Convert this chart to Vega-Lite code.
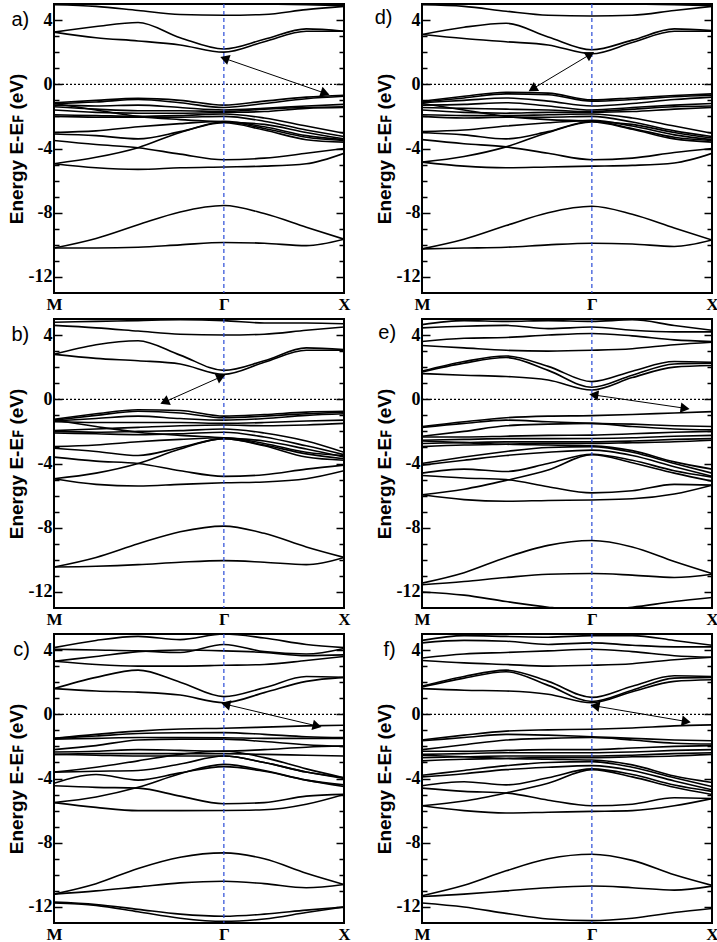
{
"$schema": "https://vega.github.io/schema/vega-lite/v6.json",
"background": "white",
"padding": {"left": 6, "top": 2, "right": 2, "bottom": 4},
"bounds": "flush",
"columns": 2,
"spacing": {"row": 26, "column": 78},
"config": {"view": {"stroke": "black", "strokeWidth": 2}},
"datasets": {
"a": [
{"b":1,"x":0,"y":4.95},{"b":1,"x":0.35,"y":4.85},{"b":1,"x":0.7,"y":4.6},{"b":1,"x":1.05,"y":4.35},{"b":1,"x":1.414,"y":4.3},{"b":1,"x":1.75,"y":4.35},{"b":1,"x":2.1,"y":4.65},{"b":1,"x":2.414,"y":4.85},
{"b":2,"x":0,"y":5.1},{"b":2,"x":0.35,"y":5.1},{"b":2,"x":0.7,"y":5.1},{"b":2,"x":1.05,"y":5.1},{"b":2,"x":1.414,"y":5.05},{"b":2,"x":1.75,"y":5.0},{"b":2,"x":2.1,"y":4.95},{"b":2,"x":2.414,"y":4.9},
{"b":3,"x":0,"y":3.25},{"b":3,"x":0.35,"y":3.6},{"b":3,"x":0.7,"y":3.85},{"b":3,"x":1.05,"y":2.9},{"b":3,"x":1.414,"y":2.2},{"b":3,"x":1.75,"y":2.8},{"b":3,"x":2.1,"y":3.45},{"b":3,"x":2.414,"y":3.3},
{"b":4,"x":0,"y":3.25},{"b":4,"x":0.35,"y":2.9},{"b":4,"x":0.7,"y":2.7},{"b":4,"x":1.05,"y":2.45},{"b":4,"x":1.414,"y":2.0},{"b":4,"x":1.75,"y":2.65},{"b":4,"x":2.1,"y":3.3},{"b":4,"x":2.414,"y":3.3},
{"b":5,"x":0,"y":-1.15},{"b":5,"x":0.35,"y":-1.0},{"b":5,"x":0.7,"y":-0.88},{"b":5,"x":1.05,"y":-1.0},{"b":5,"x":1.414,"y":-1.3},{"b":5,"x":1.75,"y":-1.05},{"b":5,"x":2.1,"y":-0.8},{"b":5,"x":2.414,"y":-0.68},
{"b":6,"x":0,"y":-1.2},{"b":6,"x":0.35,"y":-1.1},{"b":6,"x":0.7,"y":-0.95},{"b":6,"x":1.05,"y":-1.15},{"b":6,"x":1.414,"y":-1.45},{"b":6,"x":1.75,"y":-1.2},{"b":6,"x":2.1,"y":-0.9},{"b":6,"x":2.414,"y":-0.75},
{"b":7,"x":0,"y":-1.3},{"b":7,"x":0.35,"y":-1.35},{"b":7,"x":0.7,"y":-1.3},{"b":7,"x":1.05,"y":-1.45},{"b":7,"x":1.414,"y":-1.6},{"b":7,"x":1.75,"y":-1.5},{"b":7,"x":2.1,"y":-1.35},{"b":7,"x":2.414,"y":-1.25},
{"b":8,"x":0,"y":-1.4},{"b":8,"x":0.35,"y":-1.55},{"b":8,"x":0.7,"y":-1.65},{"b":8,"x":1.05,"y":-1.65},{"b":8,"x":1.414,"y":-1.7},{"b":8,"x":1.75,"y":-1.55},{"b":8,"x":2.1,"y":-1.45},{"b":8,"x":2.414,"y":-1.4},
{"b":9,"x":0,"y":-1.6},{"b":9,"x":0.35,"y":-1.75},{"b":9,"x":0.7,"y":-1.8},{"b":9,"x":1.05,"y":-1.8},{"b":9,"x":1.414,"y":-1.75},{"b":9,"x":1.75,"y":-1.7},{"b":9,"x":2.1,"y":-1.5},{"b":9,"x":2.414,"y":-1.45},
{"b":10,"x":0,"y":-1.9},{"b":10,"x":0.35,"y":-1.95},{"b":10,"x":0.7,"y":-2.0},{"b":10,"x":1.05,"y":-1.95},{"b":10,"x":1.414,"y":-1.85},{"b":10,"x":1.75,"y":-2.1},{"b":10,"x":2.1,"y":-2.6},{"b":10,"x":2.414,"y":-3.05},
{"b":11,"x":0,"y":-2.0},{"b":11,"x":0.35,"y":-2.05},{"b":11,"x":0.7,"y":-2.05},{"b":11,"x":1.05,"y":-2.05},{"b":11,"x":1.414,"y":-2.0},{"b":11,"x":1.75,"y":-2.3},{"b":11,"x":2.1,"y":-2.85},{"b":11,"x":2.414,"y":-3.25},
{"b":12,"x":0,"y":-1.2},{"b":12,"x":0.35,"y":-1.6},{"b":12,"x":0.7,"y":-2.0},{"b":12,"x":1.05,"y":-2.2},{"b":12,"x":1.414,"y":-2.35},{"b":12,"x":1.75,"y":-2.5},{"b":12,"x":2.1,"y":-3.0},{"b":12,"x":2.414,"y":-3.4},
{"b":13,"x":0,"y":-3.0},{"b":13,"x":0.35,"y":-2.9},{"b":13,"x":0.7,"y":-2.65},{"b":13,"x":1.05,"y":-2.45},{"b":13,"x":1.414,"y":-2.3},{"b":13,"x":1.75,"y":-2.65},{"b":13,"x":2.1,"y":-3.2},{"b":13,"x":2.414,"y":-3.45},
{"b":14,"x":0,"y":-3.1},{"b":14,"x":0.35,"y":-3.2},{"b":14,"x":0.7,"y":-3.4},{"b":14,"x":1.05,"y":-2.95},{"b":14,"x":1.414,"y":-2.35},{"b":14,"x":1.75,"y":-2.75},{"b":14,"x":2.1,"y":-3.3},{"b":14,"x":2.414,"y":-3.5},
{"b":15,"x":0,"y":-3.5},{"b":15,"x":0.35,"y":-3.75},{"b":15,"x":0.7,"y":-3.95},{"b":15,"x":1.05,"y":-4.35},{"b":15,"x":1.414,"y":-4.7},{"b":15,"x":1.75,"y":-4.6},{"b":15,"x":2.1,"y":-4.3},{"b":15,"x":2.414,"y":-4.0},
{"b":16,"x":0,"y":-4.95},{"b":16,"x":0.35,"y":-4.55},{"b":16,"x":0.7,"y":-3.95},{"b":16,"x":1.05,"y":-3.0},{"b":16,"x":1.414,"y":-2.4},{"b":16,"x":1.75,"y":-2.85},{"b":16,"x":2.1,"y":-3.45},{"b":16,"x":2.414,"y":-3.6},
{"b":17,"x":0,"y":-4.95},{"b":17,"x":0.35,"y":-5.2},{"b":17,"x":0.7,"y":-5.3},{"b":17,"x":1.05,"y":-5.2},{"b":17,"x":1.414,"y":-5.15},{"b":17,"x":1.75,"y":-5.1},{"b":17,"x":2.1,"y":-4.95},{"b":17,"x":2.414,"y":-4.3},
{"b":18,"x":0,"y":-10.2},{"b":18,"x":0.35,"y":-9.6},{"b":18,"x":0.7,"y":-8.75},{"b":18,"x":1.05,"y":-7.95},{"b":18,"x":1.414,"y":-7.55},{"b":18,"x":1.75,"y":-8.05},{"b":18,"x":2.1,"y":-8.9},{"b":18,"x":2.414,"y":-9.65},
{"b":19,"x":0,"y":-10.2},{"b":19,"x":0.35,"y":-10.2},{"b":19,"x":0.7,"y":-10.15},{"b":19,"x":1.05,"y":-10.0},{"b":19,"x":1.414,"y":-9.85},{"b":19,"x":1.75,"y":-9.9},{"b":19,"x":2.1,"y":-10.05},{"b":19,"x":2.414,"y":-9.65}
],
"d": [
{"b":1,"x":0,"y":4.95},{"b":1,"x":0.35,"y":4.85},{"b":1,"x":0.7,"y":4.55},{"b":1,"x":1.05,"y":4.3},{"b":1,"x":1.414,"y":4.25},{"b":1,"x":1.75,"y":4.3},{"b":1,"x":2.1,"y":4.6},{"b":1,"x":2.414,"y":4.85},
{"b":2,"x":0,"y":5.1},{"b":2,"x":0.35,"y":5.1},{"b":2,"x":0.7,"y":5.1},{"b":2,"x":1.05,"y":5.05},{"b":2,"x":1.414,"y":5.05},{"b":2,"x":1.75,"y":5.0},{"b":2,"x":2.1,"y":4.95},{"b":2,"x":2.414,"y":4.9},
{"b":3,"x":0,"y":3.1},{"b":3,"x":0.35,"y":3.55},{"b":3,"x":0.7,"y":3.8},{"b":3,"x":1.05,"y":2.95},{"b":3,"x":1.414,"y":2.15},{"b":3,"x":1.75,"y":2.75},{"b":3,"x":2.1,"y":3.45},{"b":3,"x":2.414,"y":3.35},
{"b":4,"x":0,"y":3.1},{"b":4,"x":0.35,"y":2.85},{"b":4,"x":0.7,"y":2.65},{"b":4,"x":1.05,"y":2.45},{"b":4,"x":1.414,"y":1.9},{"b":4,"x":1.75,"y":2.6},{"b":4,"x":2.1,"y":3.3},{"b":4,"x":2.414,"y":3.3},
{"b":5,"x":0,"y":-1.05},{"b":5,"x":0.35,"y":-0.75},{"b":5,"x":0.7,"y":-0.5},{"b":5,"x":1.05,"y":-0.55},{"b":5,"x":1.414,"y":-0.97},{"b":5,"x":1.75,"y":-0.85},{"b":5,"x":2.1,"y":-0.7},{"b":5,"x":2.414,"y":-0.6},
{"b":6,"x":0,"y":-1.1},{"b":6,"x":0.35,"y":-0.85},{"b":6,"x":0.7,"y":-0.6},{"b":6,"x":1.05,"y":-0.65},{"b":6,"x":1.414,"y":-1.05},{"b":6,"x":1.75,"y":-0.95},{"b":6,"x":2.1,"y":-0.78},{"b":6,"x":2.414,"y":-0.68},
{"b":7,"x":0,"y":-1.15},{"b":7,"x":0.35,"y":-1.0},{"b":7,"x":0.7,"y":-0.85},{"b":7,"x":1.05,"y":-1.05},{"b":7,"x":1.414,"y":-1.35},{"b":7,"x":1.75,"y":-1.2},{"b":7,"x":2.1,"y":-0.95},{"b":7,"x":2.414,"y":-0.8},
{"b":8,"x":0,"y":-1.3},{"b":8,"x":0.35,"y":-1.25},{"b":8,"x":0.7,"y":-1.15},{"b":8,"x":1.05,"y":-1.35},{"b":8,"x":1.414,"y":-1.6},{"b":8,"x":1.75,"y":-1.45},{"b":8,"x":2.1,"y":-1.3},{"b":8,"x":2.414,"y":-1.2},
{"b":9,"x":0,"y":-1.45},{"b":9,"x":0.35,"y":-1.5},{"b":9,"x":0.7,"y":-1.55},{"b":9,"x":1.05,"y":-1.6},{"b":9,"x":1.414,"y":-1.7},{"b":9,"x":1.75,"y":-1.55},{"b":9,"x":2.1,"y":-1.4},{"b":9,"x":2.414,"y":-1.35},
{"b":10,"x":0,"y":-1.6},{"b":10,"x":0.35,"y":-1.75},{"b":10,"x":0.7,"y":-1.8},{"b":10,"x":1.05,"y":-1.75},{"b":10,"x":1.414,"y":-1.75},{"b":10,"x":1.75,"y":-1.7},{"b":10,"x":2.1,"y":-1.55},{"b":10,"x":2.414,"y":-1.45},
{"b":11,"x":0,"y":-1.9},{"b":11,"x":0.35,"y":-1.95},{"b":11,"x":0.7,"y":-1.95},{"b":11,"x":1.05,"y":-1.9},{"b":11,"x":1.414,"y":-1.85},{"b":11,"x":1.75,"y":-2.1},{"b":11,"x":2.1,"y":-2.6},{"b":11,"x":2.414,"y":-3.05},
{"b":12,"x":0,"y":-2.0},{"b":12,"x":0.35,"y":-2.1},{"b":12,"x":0.7,"y":-2.05},{"b":12,"x":1.05,"y":-2.05},{"b":12,"x":1.414,"y":-2.0},{"b":12,"x":1.75,"y":-2.35},{"b":12,"x":2.1,"y":-2.9},{"b":12,"x":2.414,"y":-3.25},
{"b":13,"x":0,"y":-1.2},{"b":13,"x":0.35,"y":-1.6},{"b":13,"x":0.7,"y":-2.0},{"b":13,"x":1.05,"y":-2.2},{"b":13,"x":1.414,"y":-2.3},{"b":13,"x":1.75,"y":-2.5},{"b":13,"x":2.1,"y":-3.0},{"b":13,"x":2.414,"y":-3.35},
{"b":14,"x":0,"y":-2.95},{"b":14,"x":0.35,"y":-2.85},{"b":14,"x":0.7,"y":-2.6},{"b":14,"x":1.05,"y":-2.4},{"b":14,"x":1.414,"y":-2.25},{"b":14,"x":1.75,"y":-2.6},{"b":14,"x":2.1,"y":-3.15},{"b":14,"x":2.414,"y":-3.45},
{"b":15,"x":0,"y":-3.0},{"b":15,"x":0.35,"y":-3.15},{"b":15,"x":0.7,"y":-3.4},{"b":15,"x":1.05,"y":-2.95},{"b":15,"x":1.414,"y":-2.3},{"b":15,"x":1.75,"y":-2.75},{"b":15,"x":2.1,"y":-3.3},{"b":15,"x":2.414,"y":-3.5},
{"b":16,"x":0,"y":-3.45},{"b":16,"x":0.35,"y":-3.7},{"b":16,"x":0.7,"y":-3.9},{"b":16,"x":1.05,"y":-4.3},{"b":16,"x":1.414,"y":-4.7},{"b":16,"x":1.75,"y":-4.6},{"b":16,"x":2.1,"y":-4.25},{"b":16,"x":2.414,"y":-4.0},
{"b":17,"x":0,"y":-4.85},{"b":17,"x":0.35,"y":-4.5},{"b":17,"x":0.7,"y":-3.9},{"b":17,"x":1.05,"y":-3.0},{"b":17,"x":1.414,"y":-2.35},{"b":17,"x":1.75,"y":-2.8},{"b":17,"x":2.1,"y":-3.4},{"b":17,"x":2.414,"y":-3.6},
{"b":18,"x":0,"y":-4.85},{"b":18,"x":0.35,"y":-5.1},{"b":18,"x":0.7,"y":-5.2},{"b":18,"x":1.05,"y":-5.15},{"b":18,"x":1.414,"y":-5.1},{"b":18,"x":1.75,"y":-5.05},{"b":18,"x":2.1,"y":-4.9},{"b":18,"x":2.414,"y":-4.3},
{"b":19,"x":0,"y":-10.25},{"b":19,"x":0.35,"y":-9.65},{"b":19,"x":0.7,"y":-8.8},{"b":19,"x":1.05,"y":-8.0},{"b":19,"x":1.414,"y":-7.6},{"b":19,"x":1.75,"y":-8.1},{"b":19,"x":2.1,"y":-8.95},{"b":19,"x":2.414,"y":-9.7},
{"b":20,"x":0,"y":-10.25},{"b":20,"x":0.35,"y":-10.2},{"b":20,"x":0.7,"y":-10.15},{"b":20,"x":1.05,"y":-10.0},{"b":20,"x":1.414,"y":-9.9},{"b":20,"x":1.75,"y":-9.95},{"b":20,"x":2.1,"y":-10.1},{"b":20,"x":2.414,"y":-9.7}
],
"b": [
{"b":1,"x":0,"y":4.8},{"b":1,"x":0.35,"y":4.85},{"b":1,"x":0.7,"y":4.9},{"b":1,"x":1.05,"y":4.95},{"b":1,"x":1.414,"y":4.9},{"b":1,"x":1.75,"y":4.75},{"b":1,"x":2.1,"y":4.75},{"b":1,"x":2.414,"y":4.7},
{"b":2,"x":0,"y":4.6},{"b":2,"x":0.35,"y":4.45},{"b":2,"x":0.7,"y":4.25},{"b":2,"x":1.05,"y":4.05},{"b":2,"x":1.414,"y":4.0},{"b":2,"x":1.75,"y":4.05},{"b":2,"x":2.1,"y":4.3},{"b":2,"x":2.414,"y":4.5},
{"b":3,"x":0,"y":2.8},{"b":3,"x":0.35,"y":3.4},{"b":3,"x":0.7,"y":3.65},{"b":3,"x":1.05,"y":2.75},{"b":3,"x":1.414,"y":1.8},{"b":3,"x":1.75,"y":2.4},{"b":3,"x":2.1,"y":3.2},{"b":3,"x":2.414,"y":3.1},
{"b":4,"x":0,"y":2.8},{"b":4,"x":0.35,"y":2.55},{"b":4,"x":0.7,"y":2.4},{"b":4,"x":1.05,"y":2.2},{"b":4,"x":1.414,"y":1.55},{"b":4,"x":1.75,"y":2.3},{"b":4,"x":2.1,"y":3.05},{"b":4,"x":2.414,"y":3.05},
{"b":5,"x":0,"y":-1.25},{"b":5,"x":0.35,"y":-0.9},{"b":5,"x":0.7,"y":-0.65},{"b":5,"x":1.05,"y":-0.7},{"b":5,"x":1.414,"y":-1.05},{"b":5,"x":1.75,"y":-0.95},{"b":5,"x":2.1,"y":-0.8},{"b":5,"x":2.414,"y":-0.75},
{"b":6,"x":0,"y":-1.3},{"b":6,"x":0.35,"y":-1.0},{"b":6,"x":0.7,"y":-0.75},{"b":6,"x":1.05,"y":-0.85},{"b":6,"x":1.414,"y":-1.15},{"b":6,"x":1.75,"y":-1.05},{"b":6,"x":2.1,"y":-0.9},{"b":6,"x":2.414,"y":-0.8},
{"b":7,"x":0,"y":-1.35},{"b":7,"x":0.35,"y":-1.2},{"b":7,"x":0.7,"y":-1.05},{"b":7,"x":1.05,"y":-1.2},{"b":7,"x":1.414,"y":-1.3},{"b":7,"x":1.75,"y":-1.2},{"b":7,"x":2.1,"y":-1.0},{"b":7,"x":2.414,"y":-0.9},
{"b":8,"x":0,"y":-1.4},{"b":8,"x":0.35,"y":-1.45},{"b":8,"x":0.7,"y":-1.45},{"b":8,"x":1.05,"y":-1.45},{"b":8,"x":1.414,"y":-1.5},{"b":8,"x":1.75,"y":-1.45},{"b":8,"x":2.1,"y":-1.35},{"b":8,"x":2.414,"y":-1.3},
{"b":9,"x":0,"y":-1.95},{"b":9,"x":0.35,"y":-1.85},{"b":9,"x":0.7,"y":-1.75},{"b":9,"x":1.05,"y":-1.65},{"b":9,"x":1.414,"y":-1.6},{"b":9,"x":1.75,"y":-1.65},{"b":9,"x":2.1,"y":-1.6},{"b":9,"x":2.414,"y":-1.5},
{"b":10,"x":0,"y":-2.0},{"b":10,"x":0.35,"y":-2.05},{"b":10,"x":0.7,"y":-2.0},{"b":10,"x":1.05,"y":-1.95},{"b":10,"x":1.414,"y":-1.85},{"b":10,"x":1.75,"y":-2.1},{"b":10,"x":2.1,"y":-2.6},{"b":10,"x":2.414,"y":-3.3},
{"b":11,"x":0,"y":-2.1},{"b":11,"x":0.35,"y":-2.15},{"b":11,"x":0.7,"y":-2.2},{"b":11,"x":1.05,"y":-2.15},{"b":11,"x":1.414,"y":-2.05},{"b":11,"x":1.75,"y":-2.35},{"b":11,"x":2.1,"y":-2.9},{"b":11,"x":2.414,"y":-3.45},
{"b":12,"x":0,"y":-1.3},{"b":12,"x":0.35,"y":-1.7},{"b":12,"x":0.7,"y":-2.05},{"b":12,"x":1.05,"y":-2.25},{"b":12,"x":1.414,"y":-2.4},{"b":12,"x":1.75,"y":-2.6},{"b":12,"x":2.1,"y":-3.1},{"b":12,"x":2.414,"y":-3.6},
{"b":13,"x":0,"y":-2.95},{"b":13,"x":0.35,"y":-2.85},{"b":13,"x":0.7,"y":-2.65},{"b":13,"x":1.05,"y":-2.5},{"b":13,"x":1.414,"y":-2.4},{"b":13,"x":1.75,"y":-2.75},{"b":13,"x":2.1,"y":-3.3},{"b":13,"x":2.414,"y":-3.5},
{"b":14,"x":0,"y":-3.05},{"b":14,"x":0.35,"y":-3.25},{"b":14,"x":0.7,"y":-3.5},{"b":14,"x":1.05,"y":-3.0},{"b":14,"x":1.414,"y":-2.45},{"b":14,"x":1.75,"y":-2.85},{"b":14,"x":2.1,"y":-3.4},{"b":14,"x":2.414,"y":-3.7},
{"b":15,"x":0,"y":-3.6},{"b":15,"x":0.35,"y":-3.85},{"b":15,"x":0.7,"y":-4.0},{"b":15,"x":1.05,"y":-4.45},{"b":15,"x":1.414,"y":-4.8},{"b":15,"x":1.75,"y":-4.7},{"b":15,"x":2.1,"y":-4.35},{"b":15,"x":2.414,"y":-4.1},
{"b":16,"x":0,"y":-4.95},{"b":16,"x":0.35,"y":-4.6},{"b":16,"x":0.7,"y":-4.0},{"b":16,"x":1.05,"y":-3.1},{"b":16,"x":1.414,"y":-2.45},{"b":16,"x":1.75,"y":-2.9},{"b":16,"x":2.1,"y":-3.6},{"b":16,"x":2.414,"y":-3.8},
{"b":17,"x":0,"y":-4.95},{"b":17,"x":0.35,"y":-5.3},{"b":17,"x":0.7,"y":-5.4},{"b":17,"x":1.05,"y":-5.3},{"b":17,"x":1.414,"y":-5.2},{"b":17,"x":1.75,"y":-5.15},{"b":17,"x":2.1,"y":-4.95},{"b":17,"x":2.414,"y":-4.45},
{"b":18,"x":0,"y":-10.45},{"b":18,"x":0.35,"y":-9.85},{"b":18,"x":0.7,"y":-9.0},{"b":18,"x":1.05,"y":-8.25},{"b":18,"x":1.414,"y":-7.9},{"b":18,"x":1.75,"y":-8.35},{"b":18,"x":2.1,"y":-9.2},{"b":18,"x":2.414,"y":-9.85},
{"b":19,"x":0,"y":-10.45},{"b":19,"x":0.35,"y":-10.4},{"b":19,"x":0.7,"y":-10.3},{"b":19,"x":1.05,"y":-10.15},{"b":19,"x":1.414,"y":-10.05},{"b":19,"x":1.75,"y":-10.15},{"b":19,"x":2.1,"y":-10.3},{"b":19,"x":2.414,"y":-9.85}
],
"c": [
{"b":1,"x":0,"y":4.15},{"b":1,"x":0.35,"y":4.6},{"b":1,"x":0.7,"y":4.85},{"b":1,"x":1.05,"y":4.65},{"b":1,"x":1.414,"y":5.0},{"b":1,"x":1.75,"y":4.75},{"b":1,"x":2.1,"y":4.35},{"b":1,"x":2.414,"y":4.15},
{"b":2,"x":0,"y":4.05},{"b":2,"x":0.35,"y":4.0},{"b":2,"x":0.7,"y":3.95},{"b":2,"x":1.05,"y":3.85},{"b":2,"x":1.414,"y":4.35},{"b":2,"x":1.75,"y":3.9},{"b":2,"x":2.1,"y":3.75},{"b":2,"x":2.414,"y":4.1},
{"b":3,"x":0,"y":3.3},{"b":3,"x":0.35,"y":3.6},{"b":3,"x":0.7,"y":3.9},{"b":3,"x":1.05,"y":4.0},{"b":3,"x":1.414,"y":3.95},{"b":3,"x":1.75,"y":3.85},{"b":3,"x":2.1,"y":3.65},{"b":3,"x":2.414,"y":3.7},
{"b":4,"x":0,"y":3.3},{"b":4,"x":0.35,"y":3.1},{"b":4,"x":0.7,"y":3.0},{"b":4,"x":1.05,"y":3.0},{"b":4,"x":1.414,"y":3.05},{"b":4,"x":1.75,"y":3.1},{"b":4,"x":2.1,"y":3.35},{"b":4,"x":2.414,"y":3.6},
{"b":5,"x":0,"y":1.6},{"b":5,"x":0.35,"y":2.3},{"b":5,"x":0.7,"y":2.75},{"b":5,"x":1.05,"y":2.0},{"b":5,"x":1.414,"y":1.1},{"b":5,"x":1.75,"y":1.65},{"b":5,"x":2.1,"y":2.35},{"b":5,"x":2.414,"y":2.3},
{"b":6,"x":0,"y":1.6},{"b":6,"x":0.35,"y":1.45},{"b":6,"x":0.7,"y":1.38},{"b":6,"x":1.05,"y":1.2},{"b":6,"x":1.414,"y":0.72},{"b":6,"x":1.75,"y":1.35},{"b":6,"x":2.1,"y":2.05},{"b":6,"x":2.414,"y":2.3},
{"b":7,"x":0,"y":-1.5},{"b":7,"x":0.35,"y":-1.25},{"b":7,"x":0.7,"y":-1.05},{"b":7,"x":1.05,"y":-0.92},{"b":7,"x":1.414,"y":-0.87},{"b":7,"x":1.75,"y":-0.8},{"b":7,"x":2.1,"y":-0.72},{"b":7,"x":2.414,"y":-0.68},
{"b":8,"x":0,"y":-1.5},{"b":8,"x":0.35,"y":-1.35},{"b":8,"x":0.7,"y":-1.2},{"b":8,"x":1.05,"y":-1.15},{"b":8,"x":1.414,"y":-1.14},{"b":8,"x":1.75,"y":-1.25},{"b":8,"x":2.1,"y":-1.4},{"b":8,"x":2.414,"y":-1.45},
{"b":9,"x":0,"y":-1.55},{"b":9,"x":0.35,"y":-1.5},{"b":9,"x":0.7,"y":-1.45},{"b":9,"x":1.05,"y":-1.45},{"b":9,"x":1.414,"y":-1.46},{"b":9,"x":1.75,"y":-1.5},{"b":9,"x":2.1,"y":-1.5},{"b":9,"x":2.414,"y":-1.5},
{"b":10,"x":0,"y":-2.2},{"b":10,"x":0.35,"y":-1.95},{"b":10,"x":0.7,"y":-1.6},{"b":10,"x":1.05,"y":-1.55},{"b":10,"x":1.414,"y":-1.55},{"b":10,"x":1.75,"y":-1.7},{"b":10,"x":2.1,"y":-1.9},{"b":10,"x":2.414,"y":-2.0},
{"b":11,"x":0,"y":-2.35},{"b":11,"x":0.35,"y":-2.3},{"b":11,"x":0.7,"y":-2.2},{"b":11,"x":1.05,"y":-2.25},{"b":11,"x":1.414,"y":-2.3},{"b":11,"x":1.75,"y":-2.2},{"b":11,"x":2.1,"y":-2.05},{"b":11,"x":2.414,"y":-1.98},
{"b":12,"x":0,"y":-2.5},{"b":12,"x":0.35,"y":-2.45},{"b":12,"x":0.7,"y":-2.45},{"b":12,"x":1.05,"y":-2.45},{"b":12,"x":1.414,"y":-2.45},{"b":12,"x":1.75,"y":-2.5},{"b":12,"x":2.1,"y":-2.55},{"b":12,"x":2.414,"y":-2.6},
{"b":13,"x":0,"y":-2.5},{"b":13,"x":0.35,"y":-2.55},{"b":13,"x":0.7,"y":-2.6},{"b":13,"x":1.05,"y":-2.6},{"b":13,"x":1.414,"y":-2.6},{"b":13,"x":1.75,"y":-3.0},{"b":13,"x":2.1,"y":-3.6},{"b":13,"x":2.414,"y":-3.95},
{"b":14,"x":0,"y":-3.6},{"b":14,"x":0.35,"y":-3.3},{"b":14,"x":0.7,"y":-2.9},{"b":14,"x":1.05,"y":-2.5},{"b":14,"x":1.414,"y":-2.29},{"b":14,"x":1.75,"y":-2.7},{"b":14,"x":2.1,"y":-3.4},{"b":14,"x":2.414,"y":-3.95},
{"b":15,"x":0,"y":-3.6},{"b":15,"x":0.35,"y":-3.55},{"b":15,"x":0.7,"y":-3.5},{"b":15,"x":1.05,"y":-3.1},{"b":15,"x":1.414,"y":-2.6},{"b":15,"x":1.75,"y":-3.0},{"b":15,"x":2.1,"y":-3.6},{"b":15,"x":2.414,"y":-4.0},
{"b":16,"x":0,"y":-4.3},{"b":16,"x":0.35,"y":-3.75},{"b":16,"x":0.7,"y":-4.1},{"b":16,"x":1.05,"y":-3.65},{"b":16,"x":1.414,"y":-3.26},{"b":16,"x":1.75,"y":-3.55},{"b":16,"x":2.1,"y":-4.1},{"b":16,"x":2.414,"y":-4.5},
{"b":17,"x":0,"y":-4.45},{"b":17,"x":0.35,"y":-4.55},{"b":17,"x":0.7,"y":-4.6},{"b":17,"x":1.05,"y":-5.1},{"b":17,"x":1.414,"y":-5.57},{"b":17,"x":1.75,"y":-5.5},{"b":17,"x":2.1,"y":-5.1},{"b":17,"x":2.414,"y":-4.99},
{"b":18,"x":0,"y":-5.5},{"b":18,"x":0.35,"y":-5.15},{"b":18,"x":0.7,"y":-4.55},{"b":18,"x":1.05,"y":-3.7},{"b":18,"x":1.414,"y":-3.12},{"b":18,"x":1.75,"y":-3.5},{"b":18,"x":2.1,"y":-4.1},{"b":18,"x":2.414,"y":-4.4},
{"b":19,"x":0,"y":-5.5},{"b":19,"x":0.35,"y":-5.8},{"b":19,"x":0.7,"y":-6.0},{"b":19,"x":1.05,"y":-6.0},{"b":19,"x":1.414,"y":-5.99},{"b":19,"x":1.75,"y":-5.95},{"b":19,"x":2.1,"y":-5.6},{"b":19,"x":2.414,"y":-4.99},
{"b":20,"x":0,"y":-11.2},{"b":20,"x":0.35,"y":-10.55},{"b":20,"x":0.7,"y":-9.6},{"b":20,"x":1.05,"y":-8.9},{"b":20,"x":1.414,"y":-8.63},{"b":20,"x":1.75,"y":-9.0},{"b":20,"x":2.1,"y":-9.9},{"b":20,"x":2.414,"y":-10.6},
{"b":21,"x":0,"y":-11.2},{"b":21,"x":0.35,"y":-11.0},{"b":21,"x":0.7,"y":-10.75},{"b":21,"x":1.05,"y":-10.5},{"b":21,"x":1.414,"y":-10.4},{"b":21,"x":1.75,"y":-10.55},{"b":21,"x":2.1,"y":-10.8},{"b":21,"x":2.414,"y":-10.6},
{"b":22,"x":0,"y":-11.7},{"b":22,"x":0.35,"y":-11.85},{"b":22,"x":0.7,"y":-12.15},{"b":22,"x":1.05,"y":-12.45},{"b":22,"x":1.414,"y":-12.58},{"b":22,"x":1.75,"y":-12.45},{"b":22,"x":2.1,"y":-12.2},{"b":22,"x":2.414,"y":-12.0},
{"b":23,"x":0,"y":-11.75},{"b":23,"x":0.35,"y":-11.9},{"b":23,"x":0.7,"y":-12.3},{"b":23,"x":1.05,"y":-12.7},{"b":23,"x":1.414,"y":-12.9},{"b":23,"x":1.75,"y":-12.75},{"b":23,"x":2.1,"y":-12.35},{"b":23,"x":2.414,"y":-12.0}
],
"e": [
{"b":1,"x":0,"y":4.65},{"b":1,"x":0.35,"y":4.9},{"b":1,"x":0.7,"y":4.85},{"b":1,"x":1.05,"y":4.9},{"b":1,"x":1.414,"y":4.85},{"b":1,"x":1.75,"y":4.95},{"b":1,"x":2.1,"y":4.6},{"b":1,"x":2.414,"y":4.3},
{"b":2,"x":0,"y":4.45},{"b":2,"x":0.35,"y":4.55},{"b":2,"x":0.7,"y":4.6},{"b":2,"x":1.05,"y":4.4},{"b":2,"x":1.414,"y":4.5},{"b":2,"x":1.75,"y":4.3},{"b":2,"x":2.1,"y":4.2},{"b":2,"x":2.414,"y":4.2},
{"b":3,"x":0,"y":3.6},{"b":3,"x":0.35,"y":3.8},{"b":3,"x":0.7,"y":3.85},{"b":3,"x":1.05,"y":4.0},{"b":3,"x":1.414,"y":4.1},{"b":3,"x":1.75,"y":3.95},{"b":3,"x":2.1,"y":3.7},{"b":3,"x":2.414,"y":3.6},
{"b":4,"x":0,"y":3.35},{"b":4,"x":0.35,"y":3.2},{"b":4,"x":0.7,"y":3.05},{"b":4,"x":1.05,"y":3.0},{"b":4,"x":1.414,"y":3.05},{"b":4,"x":1.75,"y":3.15},{"b":4,"x":2.1,"y":3.4},{"b":4,"x":2.414,"y":3.55},
{"b":5,"x":0,"y":1.75},{"b":5,"x":0.35,"y":2.35},{"b":5,"x":0.7,"y":2.7},{"b":5,"x":1.05,"y":2.05},{"b":5,"x":1.414,"y":1.1},{"b":5,"x":1.75,"y":1.75},{"b":5,"x":2.1,"y":2.35},{"b":5,"x":2.414,"y":2.3},
{"b":6,"x":0,"y":1.7},{"b":6,"x":0.35,"y":2.25},{"b":6,"x":0.7,"y":2.6},{"b":6,"x":1.05,"y":1.8},{"b":6,"x":1.414,"y":0.75},{"b":6,"x":1.75,"y":1.5},{"b":6,"x":2.1,"y":2.2},{"b":6,"x":2.414,"y":2.25},
{"b":7,"x":0,"y":1.6},{"b":7,"x":0.35,"y":1.5},{"b":7,"x":0.7,"y":1.42},{"b":7,"x":1.05,"y":1.2},{"b":7,"x":1.414,"y":0.58},{"b":7,"x":1.75,"y":1.35},{"b":7,"x":2.1,"y":2.0},{"b":7,"x":2.414,"y":2.1},
{"b":8,"x":0,"y":-1.7},{"b":8,"x":0.35,"y":-1.4},{"b":8,"x":0.7,"y":-1.15},{"b":8,"x":1.05,"y":-1.05},{"b":8,"x":1.414,"y":-1.02},{"b":8,"x":1.75,"y":-0.95},{"b":8,"x":2.1,"y":-0.85},{"b":8,"x":2.414,"y":-0.77},
{"b":9,"x":0,"y":-1.75},{"b":9,"x":0.35,"y":-1.5},{"b":9,"x":0.7,"y":-1.3},{"b":9,"x":1.05,"y":-1.4},{"b":9,"x":1.414,"y":-1.5},{"b":9,"x":1.75,"y":-1.55},{"b":9,"x":2.1,"y":-1.65},{"b":9,"x":2.414,"y":-1.7},
{"b":10,"x":0,"y":-2.3},{"b":10,"x":0.35,"y":-2.0},{"b":10,"x":0.7,"y":-1.65},{"b":10,"x":1.05,"y":-1.55},{"b":10,"x":1.414,"y":-1.5},{"b":10,"x":1.75,"y":-1.7},{"b":10,"x":2.1,"y":-1.85},{"b":10,"x":2.414,"y":-1.9},
{"b":11,"x":0,"y":-2.35},{"b":11,"x":0.35,"y":-2.35},{"b":11,"x":0.7,"y":-2.3},{"b":11,"x":1.05,"y":-2.25},{"b":11,"x":1.414,"y":-2.23},{"b":11,"x":1.75,"y":-2.15},{"b":11,"x":2.1,"y":-2.05},{"b":11,"x":2.414,"y":-2.0},
{"b":12,"x":0,"y":-2.55},{"b":12,"x":0.35,"y":-2.5},{"b":12,"x":0.7,"y":-2.45},{"b":12,"x":1.05,"y":-2.45},{"b":12,"x":1.414,"y":-2.44},{"b":12,"x":1.75,"y":-2.4},{"b":12,"x":2.1,"y":-2.3},{"b":12,"x":2.414,"y":-2.25},
{"b":13,"x":0,"y":-2.75},{"b":13,"x":0.35,"y":-2.7},{"b":13,"x":0.7,"y":-2.65},{"b":13,"x":1.05,"y":-2.65},{"b":13,"x":1.414,"y":-2.65},{"b":13,"x":1.75,"y":-2.6},{"b":13,"x":2.1,"y":-2.5},{"b":13,"x":2.414,"y":-2.45},
{"b":14,"x":0,"y":-2.95},{"b":14,"x":0.35,"y":-2.85},{"b":14,"x":0.7,"y":-2.8},{"b":14,"x":1.05,"y":-2.75},{"b":14,"x":1.414,"y":-2.75},{"b":14,"x":1.75,"y":-2.7},{"b":14,"x":2.1,"y":-2.65},{"b":14,"x":2.414,"y":-2.55},
{"b":15,"x":0,"y":-2.6},{"b":15,"x":0.35,"y":-2.7},{"b":15,"x":0.7,"y":-2.8},{"b":15,"x":1.05,"y":-2.85},{"b":15,"x":1.414,"y":-2.9},{"b":15,"x":1.75,"y":-3.2},{"b":15,"x":2.1,"y":-3.9},{"b":15,"x":2.414,"y":-4.35},
{"b":16,"x":0,"y":-4.0},{"b":16,"x":0.35,"y":-3.6},{"b":16,"x":0.7,"y":-3.25},{"b":16,"x":1.05,"y":-3.0},{"b":16,"x":1.414,"y":-2.95},{"b":16,"x":1.75,"y":-3.3},{"b":16,"x":2.1,"y":-4.0},{"b":16,"x":2.414,"y":-4.6},
{"b":17,"x":0,"y":-4.1},{"b":17,"x":0.35,"y":-3.8},{"b":17,"x":0.7,"y":-3.5},{"b":17,"x":1.05,"y":-3.3},{"b":17,"x":1.414,"y":-3.17},{"b":17,"x":1.75,"y":-3.5},{"b":17,"x":2.1,"y":-4.2},{"b":17,"x":2.414,"y":-4.8},
{"b":18,"x":0,"y":-4.6},{"b":18,"x":0.35,"y":-4.35},{"b":18,"x":0.7,"y":-4.5},{"b":18,"x":1.05,"y":-4.0},{"b":18,"x":1.414,"y":-3.42},{"b":18,"x":1.75,"y":-3.8},{"b":18,"x":2.1,"y":-4.45},{"b":18,"x":2.414,"y":-4.85},
{"b":19,"x":0,"y":-4.75},{"b":19,"x":0.35,"y":-4.9},{"b":19,"x":0.7,"y":-5.0},{"b":19,"x":1.05,"y":-5.45},{"b":19,"x":1.414,"y":-5.83},{"b":19,"x":1.75,"y":-5.7},{"b":19,"x":2.1,"y":-5.3},{"b":19,"x":2.414,"y":-5.35},
{"b":20,"x":0,"y":-5.95},{"b":20,"x":0.35,"y":-5.6},{"b":20,"x":0.7,"y":-5.05},{"b":20,"x":1.05,"y":-4.4},{"b":20,"x":1.414,"y":-3.45},{"b":20,"x":1.75,"y":-3.95},{"b":20,"x":2.1,"y":-4.6},{"b":20,"x":2.414,"y":-5.1},
{"b":21,"x":0,"y":-5.95},{"b":21,"x":0.35,"y":-6.25},{"b":21,"x":0.7,"y":-6.35},{"b":21,"x":1.05,"y":-6.3},{"b":21,"x":1.414,"y":-6.27},{"b":21,"x":1.75,"y":-6.2},{"b":21,"x":2.1,"y":-5.9},{"b":21,"x":2.414,"y":-5.35},
{"b":22,"x":0,"y":-11.45},{"b":22,"x":0.35,"y":-10.8},{"b":22,"x":0.7,"y":-9.85},{"b":22,"x":1.05,"y":-9.1},{"b":22,"x":1.414,"y":-8.8},{"b":22,"x":1.75,"y":-9.2},{"b":22,"x":2.1,"y":-10.1},{"b":22,"x":2.414,"y":-10.85},
{"b":23,"x":0,"y":-11.55},{"b":23,"x":0.35,"y":-11.35},{"b":23,"x":0.7,"y":-11.1},{"b":23,"x":1.05,"y":-10.9},{"b":23,"x":1.414,"y":-10.85},{"b":23,"x":1.75,"y":-10.95},{"b":23,"x":2.1,"y":-11.1},{"b":23,"x":2.414,"y":-10.9},
{"b":24,"x":0,"y":-12.0},{"b":24,"x":0.35,"y":-12.2},{"b":24,"x":0.7,"y":-12.6},{"b":24,"x":1.05,"y":-12.95},{"b":24,"x":1.414,"y":-13.15},{"b":24,"x":1.75,"y":-12.95},{"b":24,"x":2.1,"y":-12.6},{"b":24,"x":2.414,"y":-12.35}
],
"f": [
{"b":1,"x":0,"y":4.6},{"b":1,"x":0.35,"y":4.9},{"b":1,"x":0.7,"y":4.85},{"b":1,"x":1.05,"y":4.8},{"b":1,"x":1.414,"y":4.9},{"b":1,"x":1.75,"y":4.9},{"b":1,"x":2.1,"y":4.6},{"b":1,"x":2.414,"y":4.3},
{"b":2,"x":0,"y":4.45},{"b":2,"x":0.35,"y":4.6},{"b":2,"x":0.7,"y":4.55},{"b":2,"x":1.05,"y":4.35},{"b":2,"x":1.414,"y":4.45},{"b":2,"x":1.75,"y":4.3},{"b":2,"x":2.1,"y":4.2},{"b":2,"x":2.414,"y":4.2},
{"b":3,"x":0,"y":3.5},{"b":3,"x":0.35,"y":3.75},{"b":3,"x":0.7,"y":3.85},{"b":3,"x":1.05,"y":3.95},{"b":3,"x":1.414,"y":4.05},{"b":3,"x":1.75,"y":3.9},{"b":3,"x":2.1,"y":3.65},{"b":3,"x":2.414,"y":3.55},
{"b":4,"x":0,"y":3.35},{"b":4,"x":0.35,"y":3.2},{"b":4,"x":0.7,"y":3.1},{"b":4,"x":1.05,"y":3.0},{"b":4,"x":1.414,"y":3.05},{"b":4,"x":1.75,"y":3.15},{"b":4,"x":2.1,"y":3.4},{"b":4,"x":2.414,"y":3.55},
{"b":5,"x":0,"y":1.75},{"b":5,"x":0.35,"y":2.35},{"b":5,"x":0.7,"y":2.75},{"b":5,"x":1.05,"y":2.05},{"b":5,"x":1.414,"y":1.05},{"b":5,"x":1.75,"y":1.75},{"b":5,"x":2.1,"y":2.4},{"b":5,"x":2.414,"y":2.35},
{"b":6,"x":0,"y":1.7},{"b":6,"x":0.35,"y":2.25},{"b":6,"x":0.7,"y":2.65},{"b":6,"x":1.05,"y":1.8},{"b":6,"x":1.414,"y":0.8},{"b":6,"x":1.75,"y":1.5},{"b":6,"x":2.1,"y":2.25},{"b":6,"x":2.414,"y":2.3},
{"b":7,"x":0,"y":1.6},{"b":7,"x":0.35,"y":1.5},{"b":7,"x":0.7,"y":1.45},{"b":7,"x":1.05,"y":1.25},{"b":7,"x":1.414,"y":0.72},{"b":7,"x":1.75,"y":1.4},{"b":7,"x":2.1,"y":2.05},{"b":7,"x":2.414,"y":2.15},
{"b":8,"x":0,"y":-1.6},{"b":8,"x":0.35,"y":-1.3},{"b":8,"x":0.7,"y":-1.05},{"b":8,"x":1.05,"y":-0.97},{"b":8,"x":1.414,"y":-0.93},{"b":8,"x":1.75,"y":-0.85},{"b":8,"x":2.1,"y":-0.72},{"b":8,"x":2.414,"y":-0.66},
{"b":9,"x":0,"y":-1.65},{"b":9,"x":0.35,"y":-1.45},{"b":9,"x":0.7,"y":-1.25},{"b":9,"x":1.05,"y":-1.3},{"b":9,"x":1.414,"y":-1.4},{"b":9,"x":1.75,"y":-1.5},{"b":9,"x":2.1,"y":-1.6},{"b":9,"x":2.414,"y":-1.65},
{"b":10,"x":0,"y":-2.2},{"b":10,"x":0.35,"y":-1.9},{"b":10,"x":0.7,"y":-1.6},{"b":10,"x":1.05,"y":-1.5},{"b":10,"x":1.414,"y":-1.45},{"b":10,"x":1.75,"y":-1.6},{"b":10,"x":2.1,"y":-1.8},{"b":10,"x":2.414,"y":-1.85},
{"b":11,"x":0,"y":-2.3},{"b":11,"x":0.35,"y":-2.3},{"b":11,"x":0.7,"y":-2.25},{"b":11,"x":1.05,"y":-2.2},{"b":11,"x":1.414,"y":-2.2},{"b":11,"x":1.75,"y":-2.1},{"b":11,"x":2.1,"y":-2.0},{"b":11,"x":2.414,"y":-1.95},
{"b":12,"x":0,"y":-2.5},{"b":12,"x":0.35,"y":-2.45},{"b":12,"x":0.7,"y":-2.4},{"b":12,"x":1.05,"y":-2.4},{"b":12,"x":1.414,"y":-2.4},{"b":12,"x":1.75,"y":-2.35},{"b":12,"x":2.1,"y":-2.25},{"b":12,"x":2.414,"y":-2.2},
{"b":13,"x":0,"y":-2.7},{"b":13,"x":0.35,"y":-2.65},{"b":13,"x":0.7,"y":-2.6},{"b":13,"x":1.05,"y":-2.6},{"b":13,"x":1.414,"y":-2.6},{"b":13,"x":1.75,"y":-2.55},{"b":13,"x":2.1,"y":-2.45},{"b":13,"x":2.414,"y":-2.4},
{"b":14,"x":0,"y":-2.9},{"b":14,"x":0.35,"y":-2.8},{"b":14,"x":0.7,"y":-2.75},{"b":14,"x":1.05,"y":-2.7},{"b":14,"x":1.414,"y":-2.7},{"b":14,"x":1.75,"y":-2.65},{"b":14,"x":2.1,"y":-2.6},{"b":14,"x":2.414,"y":-2.5},
{"b":15,"x":0,"y":-2.55},{"b":15,"x":0.35,"y":-2.65},{"b":15,"x":0.7,"y":-2.75},{"b":15,"x":1.05,"y":-2.8},{"b":15,"x":1.414,"y":-2.85},{"b":15,"x":1.75,"y":-3.15},{"b":15,"x":2.1,"y":-3.85},{"b":15,"x":2.414,"y":-4.25},
{"b":16,"x":0,"y":-3.8},{"b":16,"x":0.35,"y":-3.5},{"b":16,"x":0.7,"y":-3.2},{"b":16,"x":1.05,"y":-3.0},{"b":16,"x":1.414,"y":-2.95},{"b":16,"x":1.75,"y":-3.3},{"b":16,"x":2.1,"y":-3.95},{"b":16,"x":2.414,"y":-4.5},
{"b":17,"x":0,"y":-3.9},{"b":17,"x":0.35,"y":-3.7},{"b":17,"x":0.7,"y":-3.45},{"b":17,"x":1.05,"y":-3.3},{"b":17,"x":1.414,"y":-3.2},{"b":17,"x":1.75,"y":-3.5},{"b":17,"x":2.1,"y":-4.15},{"b":17,"x":2.414,"y":-4.7},
{"b":18,"x":0,"y":-4.45},{"b":18,"x":0.35,"y":-4.2},{"b":18,"x":0.7,"y":-4.4},{"b":18,"x":1.05,"y":-3.95},{"b":18,"x":1.414,"y":-3.4},{"b":18,"x":1.75,"y":-3.75},{"b":18,"x":2.1,"y":-4.4},{"b":18,"x":2.414,"y":-4.8},
{"b":19,"x":0,"y":-4.6},{"b":19,"x":0.35,"y":-4.8},{"b":19,"x":0.7,"y":-4.9},{"b":19,"x":1.05,"y":-5.35},{"b":19,"x":1.414,"y":-5.7},{"b":19,"x":1.75,"y":-5.6},{"b":19,"x":2.1,"y":-5.2},{"b":19,"x":2.414,"y":-5.25},
{"b":20,"x":0,"y":-5.7},{"b":20,"x":0.35,"y":-5.4},{"b":20,"x":0.7,"y":-4.9},{"b":20,"x":1.05,"y":-4.3},{"b":20,"x":1.414,"y":-3.45},{"b":20,"x":1.75,"y":-3.9},{"b":20,"x":2.1,"y":-4.55},{"b":20,"x":2.414,"y":-5.0},
{"b":21,"x":0,"y":-5.7},{"b":21,"x":0.35,"y":-6.0},{"b":21,"x":0.7,"y":-6.15},{"b":21,"x":1.05,"y":-6.1},{"b":21,"x":1.414,"y":-6.05},{"b":21,"x":1.75,"y":-6.0},{"b":21,"x":2.1,"y":-5.7},{"b":21,"x":2.414,"y":-5.25},
{"b":22,"x":0,"y":-11.3},{"b":22,"x":0.35,"y":-10.65},{"b":22,"x":0.7,"y":-9.75},{"b":22,"x":1.05,"y":-9.0},{"b":22,"x":1.414,"y":-8.72},{"b":22,"x":1.75,"y":-9.1},{"b":22,"x":2.1,"y":-10.0},{"b":22,"x":2.414,"y":-10.66},
{"b":23,"x":0,"y":-11.35},{"b":23,"x":0.35,"y":-11.2},{"b":23,"x":0.7,"y":-11.0},{"b":23,"x":1.05,"y":-10.8},{"b":23,"x":1.414,"y":-10.7},{"b":23,"x":1.75,"y":-10.8},{"b":23,"x":2.1,"y":-10.95},{"b":23,"x":2.414,"y":-10.7},
{"b":24,"x":0,"y":-11.75},{"b":24,"x":0.35,"y":-12.0},{"b":24,"x":0.7,"y":-12.4},{"b":24,"x":1.05,"y":-12.75},{"b":24,"x":1.414,"y":-12.85},{"b":24,"x":1.75,"y":-12.7},{"b":24,"x":2.1,"y":-12.35},{"b":24,"x":2.414,"y":-12.1}
]
},
"concat": [
{"width": 290, "height": 289, "resolve": {"axis": {"y": "independent"}}, "layer": [
 {"data": {"name": "a"}, "mark": {"type": "line", "color": "black", "strokeWidth": 1.6, "interpolate": "monotone", "clip": true},
  "encoding": {
   "x": {"field": "x", "type": "quantitative", "title": null, "scale": {"domain": [0, 2.414], "nice": false, "zero": false}, "axis": {"values": [0, 1.414, 2.414], "labelExpr": "datum.value < 0.5 ? 'M' : (datum.value < 2 ? 'Γ' : 'X')", "ticks": false, "domain": false, "grid": false, "labelFlush": false, "labelFont": "Liberation Serif", "labelFontWeight": "bold", "labelFontSize": 17, "labelColor": "black", "labelPadding": 3, "labelOverlap": false}},
   "y": {"field": "y", "type": "quantitative", "title": "Energy E-E\uA730 (eV)", "scale": {"domain": [-13, 5], "nice": false, "zero": false}, "axis": {"orient": "left", "values": [-12,-11,-10,-9,-8,-7,-6,-5,-4,-3,-2,-1,0,1,2,3,4], "labelExpr": "datum.value % 4 === 0 ? '' + datum.value : ''", "tickSize": {"condition": {"test": "datum.value % 4 === 0", "value": -8}, "value": -5}, "tickColor": "black", "tickWidth": 1.5, "labelPadding": 10, "labelFont": "Liberation Serif", "labelFontWeight": "bold", "labelFontSize": 18, "labelColor": "black", "domain": false, "grid": false, "titleFont": "Liberation Sans", "titleFontWeight": "bold", "titleFontSize": 19, "titleColor": "black", "titlePadding": 2, "labelOverlap": false}},
   "detail": {"field": "b", "type": "nominal"}}},
 {"data": {"values": [{}]}, "mark": {"type": "rule", "color": "black", "strokeWidth": 1.3, "strokeDash": [2, 2]},
  "encoding": {"y": {"datum": 0, "type": "quantitative", "axis": {"orient": "right", "values": [-12,-11,-10,-9,-8,-7,-6,-5,-4,-3,-2,-1,0,1,2,3,4], "labels": false, "title": null, "tickSize": {"condition": {"test": "datum.value % 4 === 0", "value": -8}, "value": -5}, "tickColor": "black", "tickWidth": 1.5, "domain": false, "grid": false}}}},
 {"data": {"values": [{}]}, "mark": {"type": "rule", "color": "#2a4bd7", "strokeWidth": 1.2, "strokeDash": [4, 3]},
  "encoding": {"x": {"datum": 1.414, "type": "quantitative"}}},
 {"data": {"values": [{"x": 1.42, "y": 1.61, "e": "s"}, {"x": 2.257, "y": -0.56, "e": "t"}]}, "mark": {"type": "line", "color": "black", "strokeWidth": 1},
  "encoding": {"x": {"field": "x", "type": "quantitative", "title": null}, "y": {"field": "y", "type": "quantitative", "axis": null}}},
 {"data": {"values": [{"x": 1.42, "y": 1.61, "e": "s"}, {"x": 2.257, "y": -0.56, "e": "t"}]}, "mark": {"type": "point", "shape": "triangle-up", "filled": true, "color": "black", "opacity": 1, "size": 110},
  "encoding": {"x": {"field": "x", "type": "quantitative", "title": null}, "y": {"field": "y", "type": "quantitative", "axis": null}, "angle": {"condition": {"test": "datum.e === 't'", "value": 109}, "value": 289}}},
 {"data": {"values": [{"t": "a)"}]}, "mark": {"type": "text", "font": "Liberation Sans", "fontSize": 20, "color": "black"},
  "encoding": {"x": {"datum": -0.28, "type": "quantitative"}, "y": {"datum": 4, "type": "quantitative", "axis": null}, "text": {"field": "t"}}}
]},
{"width": 290, "height": 289, "resolve": {"axis": {"y": "independent"}}, "layer": [
 {"data": {"name": "d"}, "mark": {"type": "line", "color": "black", "strokeWidth": 1.6, "interpolate": "monotone", "clip": true},
  "encoding": {
   "x": {"field": "x", "type": "quantitative", "title": null, "scale": {"domain": [0, 2.414], "nice": false, "zero": false}, "axis": {"values": [0, 1.414, 2.414], "labelExpr": "datum.value < 0.5 ? 'M' : (datum.value < 2 ? 'Γ' : 'X')", "ticks": false, "domain": false, "grid": false, "labelFlush": false, "labelFont": "Liberation Serif", "labelFontWeight": "bold", "labelFontSize": 17, "labelColor": "black", "labelPadding": 3, "labelOverlap": false}},
   "y": {"field": "y", "type": "quantitative", "title": "Energy E-E\uA730 (eV)", "scale": {"domain": [-13, 5], "nice": false, "zero": false}, "axis": {"orient": "left", "values": [-12,-11,-10,-9,-8,-7,-6,-5,-4,-3,-2,-1,0,1,2,3,4], "labelExpr": "datum.value % 4 === 0 ? '' + datum.value : ''", "tickSize": {"condition": {"test": "datum.value % 4 === 0", "value": -8}, "value": -5}, "tickColor": "black", "tickWidth": 1.5, "labelPadding": 10, "labelFont": "Liberation Serif", "labelFontWeight": "bold", "labelFontSize": 18, "labelColor": "black", "domain": false, "grid": false, "titleFont": "Liberation Sans", "titleFontWeight": "bold", "titleFontSize": 19, "titleColor": "black", "titlePadding": 2, "labelOverlap": false}},
   "detail": {"field": "b", "type": "nominal"}}},
 {"data": {"values": [{}]}, "mark": {"type": "rule", "color": "black", "strokeWidth": 1.3, "strokeDash": [2, 2]},
  "encoding": {"y": {"datum": 0, "type": "quantitative", "axis": {"orient": "right", "values": [-12,-11,-10,-9,-8,-7,-6,-5,-4,-3,-2,-1,0,1,2,3,4], "labels": false, "title": null, "tickSize": {"condition": {"test": "datum.value % 4 === 0", "value": -8}, "value": -5}, "tickColor": "black", "tickWidth": 1.5, "domain": false, "grid": false}}}},
 {"data": {"values": [{}]}, "mark": {"type": "rule", "color": "#2a4bd7", "strokeWidth": 1.2, "strokeDash": [4, 3]},
  "encoding": {"x": {"datum": 1.414, "type": "quantitative"}}},
 {"data": {"values": [{"x": 0.92, "y": -0.29, "e": "s"}, {"x": 1.4, "y": 1.86, "e": "t"}]}, "mark": {"type": "line", "color": "black", "strokeWidth": 1},
  "encoding": {"x": {"field": "x", "type": "quantitative", "title": null}, "y": {"field": "y", "type": "quantitative", "axis": null}}},
 {"data": {"values": [{"x": 0.92, "y": -0.29, "e": "s"}, {"x": 1.4, "y": 1.86, "e": "t"}]}, "mark": {"type": "point", "shape": "triangle-up", "filled": true, "color": "black", "opacity": 1, "size": 110},
  "encoding": {"x": {"field": "x", "type": "quantitative", "title": null}, "y": {"field": "y", "type": "quantitative", "axis": null}, "angle": {"condition": {"test": "datum.e === 't'", "value": 59}, "value": 239}}},
 {"data": {"values": [{"t": "d)"}]}, "mark": {"type": "text", "font": "Liberation Sans", "fontSize": 20, "color": "black"},
  "encoding": {"x": {"datum": -0.32, "type": "quantitative"}, "y": {"datum": 4.1, "type": "quantitative", "axis": null}, "text": {"field": "t"}}}
]},
{"width": 290, "height": 289, "resolve": {"axis": {"y": "independent"}}, "layer": [
 {"data": {"name": "b"}, "mark": {"type": "line", "color": "black", "strokeWidth": 1.6, "interpolate": "monotone", "clip": true},
  "encoding": {
   "x": {"field": "x", "type": "quantitative", "title": null, "scale": {"domain": [0, 2.414], "nice": false, "zero": false}, "axis": {"values": [0, 1.414, 2.414], "labelExpr": "datum.value < 0.5 ? 'M' : (datum.value < 2 ? 'Γ' : 'X')", "ticks": false, "domain": false, "grid": false, "labelFlush": false, "labelFont": "Liberation Serif", "labelFontWeight": "bold", "labelFontSize": 17, "labelColor": "black", "labelPadding": 3, "labelOverlap": false}},
   "y": {"field": "y", "type": "quantitative", "title": "Energy E-E\uA730 (eV)", "scale": {"domain": [-13, 5], "nice": false, "zero": false}, "axis": {"orient": "left", "values": [-12,-11,-10,-9,-8,-7,-6,-5,-4,-3,-2,-1,0,1,2,3,4], "labelExpr": "datum.value % 4 === 0 ? '' + datum.value : ''", "tickSize": {"condition": {"test": "datum.value % 4 === 0", "value": -8}, "value": -5}, "tickColor": "black", "tickWidth": 1.5, "labelPadding": 10, "labelFont": "Liberation Serif", "labelFontWeight": "bold", "labelFontSize": 18, "labelColor": "black", "domain": false, "grid": false, "titleFont": "Liberation Sans", "titleFontWeight": "bold", "titleFontSize": 19, "titleColor": "black", "titlePadding": 2, "labelOverlap": false}},
   "detail": {"field": "b", "type": "nominal"}}},
 {"data": {"values": [{}]}, "mark": {"type": "rule", "color": "black", "strokeWidth": 1.3, "strokeDash": [2, 2]},
  "encoding": {"y": {"datum": 0, "type": "quantitative", "axis": {"orient": "right", "values": [-12,-11,-10,-9,-8,-7,-6,-5,-4,-3,-2,-1,0,1,2,3,4], "labels": false, "title": null, "tickSize": {"condition": {"test": "datum.value % 4 === 0", "value": -8}, "value": -5}, "tickColor": "black", "tickWidth": 1.5, "domain": false, "grid": false}}}},
 {"data": {"values": [{}]}, "mark": {"type": "rule", "color": "#2a4bd7", "strokeWidth": 1.2, "strokeDash": [4, 3]},
  "encoding": {"x": {"datum": 1.414, "type": "quantitative"}}},
 {"data": {"values": [{"x": 0.92, "y": -0.17, "e": "s"}, {"x": 1.39, "y": 1.4, "e": "t"}]}, "mark": {"type": "line", "color": "black", "strokeWidth": 1},
  "encoding": {"x": {"field": "x", "type": "quantitative", "title": null}, "y": {"field": "y", "type": "quantitative", "axis": null}}},
 {"data": {"values": [{"x": 0.92, "y": -0.17, "e": "s"}, {"x": 1.39, "y": 1.4, "e": "t"}]}, "mark": {"type": "point", "shape": "triangle-up", "filled": true, "color": "black", "opacity": 1, "size": 110},
  "encoding": {"x": {"field": "x", "type": "quantitative", "title": null}, "y": {"field": "y", "type": "quantitative", "axis": null}, "angle": {"condition": {"test": "datum.e === 't'", "value": 66}, "value": 246}}},
 {"data": {"values": [{"t": "b)"}]}, "mark": {"type": "text", "font": "Liberation Sans", "fontSize": 20, "color": "black"},
  "encoding": {"x": {"datum": -0.28, "type": "quantitative"}, "y": {"datum": 4, "type": "quantitative", "axis": null}, "text": {"field": "t"}}}
]},
{"width": 290, "height": 289, "resolve": {"axis": {"y": "independent"}}, "layer": [
 {"data": {"name": "e"}, "mark": {"type": "line", "color": "black", "strokeWidth": 1.6, "interpolate": "monotone", "clip": true},
  "encoding": {
   "x": {"field": "x", "type": "quantitative", "title": null, "scale": {"domain": [0, 2.414], "nice": false, "zero": false}, "axis": {"values": [0, 1.414, 2.414], "labelExpr": "datum.value < 0.5 ? 'M' : (datum.value < 2 ? 'Γ' : 'X')", "ticks": false, "domain": false, "grid": false, "labelFlush": false, "labelFont": "Liberation Serif", "labelFontWeight": "bold", "labelFontSize": 17, "labelColor": "black", "labelPadding": 3, "labelOverlap": false}},
   "y": {"field": "y", "type": "quantitative", "title": "Energy E-E\uA730 (eV)", "scale": {"domain": [-13, 5], "nice": false, "zero": false}, "axis": {"orient": "left", "values": [-12,-11,-10,-9,-8,-7,-6,-5,-4,-3,-2,-1,0,1,2,3,4], "labelExpr": "datum.value % 4 === 0 ? '' + datum.value : ''", "tickSize": {"condition": {"test": "datum.value % 4 === 0", "value": -8}, "value": -5}, "tickColor": "black", "tickWidth": 1.5, "labelPadding": 10, "labelFont": "Liberation Serif", "labelFontWeight": "bold", "labelFontSize": 18, "labelColor": "black", "domain": false, "grid": false, "titleFont": "Liberation Sans", "titleFontWeight": "bold", "titleFontSize": 19, "titleColor": "black", "titlePadding": 2, "labelOverlap": false}},
   "detail": {"field": "b", "type": "nominal"}}},
 {"data": {"values": [{}]}, "mark": {"type": "rule", "color": "black", "strokeWidth": 1.3, "strokeDash": [2, 2]},
  "encoding": {"y": {"datum": 0, "type": "quantitative", "axis": {"orient": "right", "values": [-12,-11,-10,-9,-8,-7,-6,-5,-4,-3,-2,-1,0,1,2,3,4], "labels": false, "title": null, "tickSize": {"condition": {"test": "datum.value % 4 === 0", "value": -8}, "value": -5}, "tickColor": "black", "tickWidth": 1.5, "domain": false, "grid": false}}}},
 {"data": {"values": [{}]}, "mark": {"type": "rule", "color": "#2a4bd7", "strokeWidth": 1.2, "strokeDash": [4, 3]},
  "encoding": {"x": {"datum": 1.414, "type": "quantitative"}}},
 {"data": {"values": [{"x": 1.43, "y": 0.27, "e": "s"}, {"x": 2.19, "y": -0.56, "e": "t"}]}, "mark": {"type": "line", "color": "black", "strokeWidth": 1},
  "encoding": {"x": {"field": "x", "type": "quantitative", "title": null}, "y": {"field": "y", "type": "quantitative", "axis": null}}},
 {"data": {"values": [{"x": 1.43, "y": 0.27, "e": "s"}, {"x": 2.19, "y": -0.56, "e": "t"}]}, "mark": {"type": "point", "shape": "triangle-up", "filled": true, "color": "black", "opacity": 1, "size": 110},
  "encoding": {"x": {"field": "x", "type": "quantitative", "title": null}, "y": {"field": "y", "type": "quantitative", "axis": null}, "angle": {"condition": {"test": "datum.e === 't'", "value": 98}, "value": 278}}},
 {"data": {"values": [{"t": "e)"}]}, "mark": {"type": "text", "font": "Liberation Sans", "fontSize": 20, "color": "black"},
  "encoding": {"x": {"datum": -0.29, "type": "quantitative"}, "y": {"datum": 4.1, "type": "quantitative", "axis": null}, "text": {"field": "t"}}}
]},
{"width": 290, "height": 289, "resolve": {"axis": {"y": "independent"}}, "layer": [
 {"data": {"name": "c"}, "mark": {"type": "line", "color": "black", "strokeWidth": 1.6, "interpolate": "monotone", "clip": true},
  "encoding": {
   "x": {"field": "x", "type": "quantitative", "title": null, "scale": {"domain": [0, 2.414], "nice": false, "zero": false}, "axis": {"values": [0, 1.414, 2.414], "labelExpr": "datum.value < 0.5 ? 'M' : (datum.value < 2 ? 'Γ' : 'X')", "ticks": false, "domain": false, "grid": false, "labelFlush": false, "labelFont": "Liberation Serif", "labelFontWeight": "bold", "labelFontSize": 17, "labelColor": "black", "labelPadding": 3, "labelOverlap": false}},
   "y": {"field": "y", "type": "quantitative", "title": "Energy E-E\uA730 (eV)", "scale": {"domain": [-13, 5], "nice": false, "zero": false}, "axis": {"orient": "left", "values": [-12,-11,-10,-9,-8,-7,-6,-5,-4,-3,-2,-1,0,1,2,3,4], "labelExpr": "datum.value % 4 === 0 ? '' + datum.value : ''", "tickSize": {"condition": {"test": "datum.value % 4 === 0", "value": -8}, "value": -5}, "tickColor": "black", "tickWidth": 1.5, "labelPadding": 10, "labelFont": "Liberation Serif", "labelFontWeight": "bold", "labelFontSize": 18, "labelColor": "black", "domain": false, "grid": false, "titleFont": "Liberation Sans", "titleFontWeight": "bold", "titleFontSize": 19, "titleColor": "black", "titlePadding": 2, "labelOverlap": false}},
   "detail": {"field": "b", "type": "nominal"}}},
 {"data": {"values": [{}]}, "mark": {"type": "rule", "color": "black", "strokeWidth": 1.3, "strokeDash": [2, 2]},
  "encoding": {"y": {"datum": 0, "type": "quantitative", "axis": {"orient": "right", "values": [-12,-11,-10,-9,-8,-7,-6,-5,-4,-3,-2,-1,0,1,2,3,4], "labels": false, "title": null, "tickSize": {"condition": {"test": "datum.value % 4 === 0", "value": -8}, "value": -5}, "tickColor": "black", "tickWidth": 1.5, "domain": false, "grid": false}}}},
 {"data": {"values": [{}]}, "mark": {"type": "rule", "color": "#2a4bd7", "strokeWidth": 1.2, "strokeDash": [4, 3]},
  "encoding": {"x": {"datum": 1.414, "type": "quantitative"}}},
 {"data": {"values": [{"x": 1.43, "y": 0.62, "e": "s"}, {"x": 2.19, "y": -0.73, "e": "t"}]}, "mark": {"type": "line", "color": "black", "strokeWidth": 1},
  "encoding": {"x": {"field": "x", "type": "quantitative", "title": null}, "y": {"field": "y", "type": "quantitative", "axis": null}}},
 {"data": {"values": [{"x": 1.43, "y": 0.62, "e": "s"}, {"x": 2.19, "y": -0.73, "e": "t"}]}, "mark": {"type": "point", "shape": "triangle-up", "filled": true, "color": "black", "opacity": 1, "size": 110},
  "encoding": {"x": {"field": "x", "type": "quantitative", "title": null}, "y": {"field": "y", "type": "quantitative", "axis": null}, "angle": {"condition": {"test": "datum.e === 't'", "value": 103}, "value": 283}}},
 {"data": {"values": [{"t": "c)"}]}, "mark": {"type": "text", "font": "Liberation Sans", "fontSize": 20, "color": "black"},
  "encoding": {"x": {"datum": -0.27, "type": "quantitative"}, "y": {"datum": 4, "type": "quantitative", "axis": null}, "text": {"field": "t"}}}
]},
{"width": 290, "height": 289, "resolve": {"axis": {"y": "independent"}}, "layer": [
 {"data": {"name": "f"}, "mark": {"type": "line", "color": "black", "strokeWidth": 1.6, "interpolate": "monotone", "clip": true},
  "encoding": {
   "x": {"field": "x", "type": "quantitative", "title": null, "scale": {"domain": [0, 2.414], "nice": false, "zero": false}, "axis": {"values": [0, 1.414, 2.414], "labelExpr": "datum.value < 0.5 ? 'M' : (datum.value < 2 ? 'Γ' : 'X')", "ticks": false, "domain": false, "grid": false, "labelFlush": false, "labelFont": "Liberation Serif", "labelFontWeight": "bold", "labelFontSize": 17, "labelColor": "black", "labelPadding": 3, "labelOverlap": false}},
   "y": {"field": "y", "type": "quantitative", "title": "Energy E-E\uA730 (eV)", "scale": {"domain": [-13, 5], "nice": false, "zero": false}, "axis": {"orient": "left", "values": [-12,-11,-10,-9,-8,-7,-6,-5,-4,-3,-2,-1,0,1,2,3,4], "labelExpr": "datum.value % 4 === 0 ? '' + datum.value : ''", "tickSize": {"condition": {"test": "datum.value % 4 === 0", "value": -8}, "value": -5}, "tickColor": "black", "tickWidth": 1.5, "labelPadding": 10, "labelFont": "Liberation Serif", "labelFontWeight": "bold", "labelFontSize": 18, "labelColor": "black", "domain": false, "grid": false, "titleFont": "Liberation Sans", "titleFontWeight": "bold", "titleFontSize": 19, "titleColor": "black", "titlePadding": 2, "labelOverlap": false}},
   "detail": {"field": "b", "type": "nominal"}}},
 {"data": {"values": [{}]}, "mark": {"type": "rule", "color": "black", "strokeWidth": 1.3, "strokeDash": [2, 2]},
  "encoding": {"y": {"datum": 0, "type": "quantitative", "axis": {"orient": "right", "values": [-12,-11,-10,-9,-8,-7,-6,-5,-4,-3,-2,-1,0,1,2,3,4], "labels": false, "title": null, "tickSize": {"condition": {"test": "datum.value % 4 === 0", "value": -8}, "value": -5}, "tickColor": "black", "tickWidth": 1.5, "domain": false, "grid": false}}}},
 {"data": {"values": [{}]}, "mark": {"type": "rule", "color": "#2a4bd7", "strokeWidth": 1.2, "strokeDash": [4, 3]},
  "encoding": {"x": {"datum": 1.414, "type": "quantitative"}}},
 {"data": {"values": [{"x": 1.44, "y": 0.52, "e": "s"}, {"x": 2.2, "y": -0.45, "e": "t"}]}, "mark": {"type": "line", "color": "black", "strokeWidth": 1},
  "encoding": {"x": {"field": "x", "type": "quantitative", "title": null}, "y": {"field": "y", "type": "quantitative", "axis": null}}},
 {"data": {"values": [{"x": 1.44, "y": 0.52, "e": "s"}, {"x": 2.2, "y": -0.45, "e": "t"}]}, "mark": {"type": "point", "shape": "triangle-up", "filled": true, "color": "black", "opacity": 1, "size": 110},
  "encoding": {"x": {"field": "x", "type": "quantitative", "title": null}, "y": {"field": "y", "type": "quantitative", "axis": null}, "angle": {"condition": {"test": "datum.e === 't'", "value": 100}, "value": 280}}},
 {"data": {"values": [{"t": "f)"}]}, "mark": {"type": "text", "font": "Liberation Sans", "fontSize": 20, "color": "black"},
  "encoding": {"x": {"datum": -0.27, "type": "quantitative"}, "y": {"datum": 4, "type": "quantitative", "axis": null}, "text": {"field": "t"}}}
]}
]
}
